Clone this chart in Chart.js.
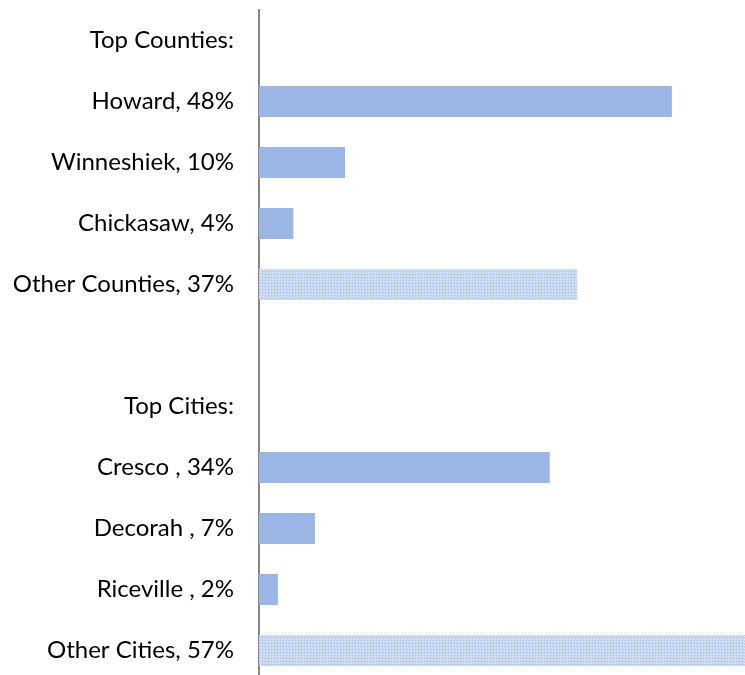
<!DOCTYPE html>
<html>
<head>
<meta charset="utf-8">
<script src="https://cdn.jsdelivr.net/npm/chart.js@4"></script>
<style>
  html, body { margin: 0; padding: 0; background: #fff; overflow: hidden; }
  canvas { display: block; }
</style>
</head>
<body>
<canvas id="shareChart" width="745" height="681"></canvas>
<script>
const labels = [
  "Top Counties:", "Howard, 48%", "Winneshiek, 10%", "Chickasaw, 4%", "Other Counties, 37%",
  "",
  "Top Cities:", "Cresco , 34%", "Decorah , 7%", "Riceville , 2%", "Other Cities, 57%"
]
const values = [null, 48, 10, 4, 37, null, null, 33.8, 6.5, 2.2, 57.5]

// small checker tile for the "Other" rows
const tile = document.createElement('canvas')
tile.width = 3
tile.height = 3
const tctx = tile.getContext('2d')
tctx.fillStyle = '#c2d3f2'
tctx.fillRect(0, 0, 3, 3)
tctx.fillStyle = '#e3ebfa'
tctx.fillRect(0, 0, 1, 1)
tctx.fillRect(2, 2, 1, 1)
tctx.fillStyle = '#adc3ec'
tctx.fillRect(1, 1, 1, 1)
const hatch = tctx.createPattern(tile, 'repeat')

const colors = labels.map(l => l.startsWith('Other') ? hatch : '#9bb5e4')

const context = document.getElementById('shareChart')
new Chart(context, {
  type: 'bar',
  data: {
    labels: labels,
    datasets: [{
      data: values,
      backgroundColor: colors,
      borderWidth: 0,
      categoryPercentage: 1,
      barPercentage: 0.51
    }]
  },
  options: {
    indexAxis: 'y',
    responsive: false,
    animation: false,
    layout: { padding: { top: 10, right: 0, bottom: 0, left: 0 } },
    plugins: {
      legend: { display: false },
      tooltip: { enabled: false }
    },
    scales: {
      x: {
        display: false,
        min: 0,
        max: 56.5
      },
      y: {
        grid: { display: false, drawTicks: false },
        border: { display: true, color: '#868686', width: 2 },
        ticks: {
          color: '#000',
          padding: 25,
          autoSkip: false,
          font: { family: 'Lato', size: 24 }
        },
        afterFit(scale) {
          scale.width = 259
          scale.paddingTop = 0
          scale.paddingBottom = 0
        }
      }
    }
  }
})
</script>
</body>
</html>
